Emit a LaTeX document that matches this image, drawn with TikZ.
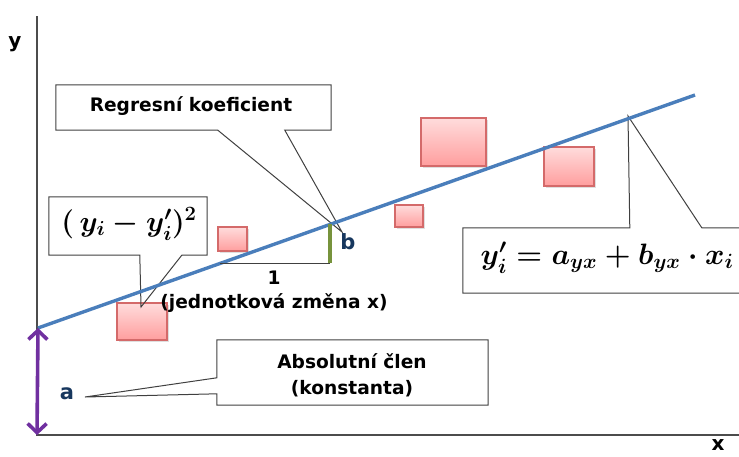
\documentclass[tikz,border=0pt]{standalone}
\usepackage{fix-cm}
\usepackage{amsmath}
\usepackage{amssymb}
\usepackage[no-math]{fontspec}
\setmainfont{DejaVu Sans}
\usepackage{tikz}
\usetikzlibrary{positioning, arrows.meta, calc, shadows}

\definecolor{regblue}{HTML}{4A7EBB}
\definecolor{abspurple}{HTML}{7030A0}
\definecolor{stepgreen}{HTML}{77933C}
\definecolor{labnavy}{HTML}{17375E}
\definecolor{ptborder}{HTML}{D46A6A}
\definecolor{pttop}{HTML}{FFDCDC}
\definecolor{ptbottom}{HTML}{FF9E9E}

\begin{document}
\begin{tikzpicture}[x=1pt, y=-1pt,
        txt/.style={font=\bfseries\fontsize{18.6}{26}\selectfont},
        ablbl/.style={font=\bfseries\fontsize{21}{22}\selectfont, text=labnavy},
        axlbl/.style={font=\bfseries\fontsize{20}{22}\selectfont, inner sep=0pt},
        callbox/.style={fill=white, inner sep=0pt},
        callline/.style={draw=black!75, line width=1pt, line join=miter},
        pt/.style={draw=ptborder, line width=1.2pt, top color=pttop, bottom color=ptbottom,
            drop shadow={opacity=0.25, shadow xshift=1.5pt, shadow yshift=-1.5pt}}]
        \useasboundingbox (0,0) rectangle (739,456);
        \clip (0,0) rectangle (739,456);

        \coordinate (O) at (37,435);
        \coordinate (ytop) at (37,16);
        \coordinate (xend) at (745,435);
        \coordinate (l0) at (38,328);
        \coordinate (l1) at (695,95);

        % axes
        \draw[black!70, line width=1.2pt] (ytop) -- (O) -- (xend);
        \node[axlbl] (ylab) at (15,44) {y};
        \node[axlbl] (xlab) at (718,445) {x};

        % observed points
        \foreach \x/\y/\w/\h in {117/303/50/37, 218/227/29/24, 395/205/28/22, 421/118/65/48, 544/147/50/39}
        {
            \draw[pt] (\x,\y) rectangle ++(\w,\h);
        }

        % callout boxes
        \node[callbox, minimum width=275pt, minimum height=45pt] (rk) at (193.5,107.5) {};
        \node[txt] (rktext) at (191,106) {Regresní koeficient};
        \coordinate (rktip) at (342,232);
        \draw[callline] (rk.south west) -- (rk.north west) -- (rk.north east) -- (rk.south east)
            -- ($(rk.south west)+(229,0)$) -- (rktip) -- ($(rk.south west)+(162,0)$) -- cycle;

        \node[callbox, minimum width=158pt, minimum height=58pt] (sq) at (128,226) {};
        \node[font=\fontsize{29}{32}\selectfont] (sqtext) at (129,224) {$\boldsymbol{(\,y_i-y'_i)^2}$};
        \coordinate (sqtip) at (141,307);
        \draw[callline] (sq.south west) -- (sq.north west) -- (sq.north east) -- (sq.south east)
            -- ($(sq.south west)+(133,0)$) -- (sqtip) -- ($(sq.south west)+(91,0)$) -- cycle;

        \node[callbox, minimum width=300pt, minimum height=65pt] (fm) at (613,260.5) {};
        \node[font=\fontsize{29.5}{34}\selectfont] (fmtext) at (607,258) {$\boldsymbol{y'_i=a_{yx}+b_{yx}\cdot x_i}$};
        \coordinate (fmtip) at (628,116);
        \draw[callline] (fm.south east) -- (fm.south west) -- (fm.north west)
            -- ($(fm.north west)+(167,0)$) -- (fmtip) -- ($(fm.north west)+(239,0)$) -- (fm.north east);

        \node[callbox, minimum width=271pt, minimum height=65pt] (ab) at (352.5,372.5) {};
        \node[txt, align=center] (abtext) at (352,375) {Absolutní člen\\(konstanta)};
        \coordinate (abtip) at (85,397);
        \draw[callline] (ab.north west) -- (ab.north east) -- (ab.south east) -- (ab.south west)
            -- ($(ab.north west)+(0,54)$) -- (abtip) -- ($(ab.north west)+(0,38)$) -- cycle;

        % regression line
        \draw[regblue, line width=3.4pt] (l0) -- (l1);

        % unit step
        \coordinate (s0) at ($(l0)!0.277!(l1)$);
        \coordinate (s1) at ($(l0)!0.4444!(l1)$);
        \draw[black!75, line width=1.2pt] (s0) -- (s0 -| s1);
        \draw[stepgreen, line width=3.2pt] (s0 -| s1) -- (s1);
        \node[txt] (one) at (274,278) {1};
        \node[txt, below=2pt of one] (unit) {(jednotková změna x)};
        \node[ablbl] (blab) at (348,242) {b};

        % intercept
        \draw[abspurple, line width=3.6pt, {Straight Barb[length=9pt, width=19pt]}-{Straight Barb[length=9pt, width=19pt]}]
            (l0) -- (O);
        \node[ablbl] (alab) at (67,394) {a};
    \end{tikzpicture}
\end{document}
